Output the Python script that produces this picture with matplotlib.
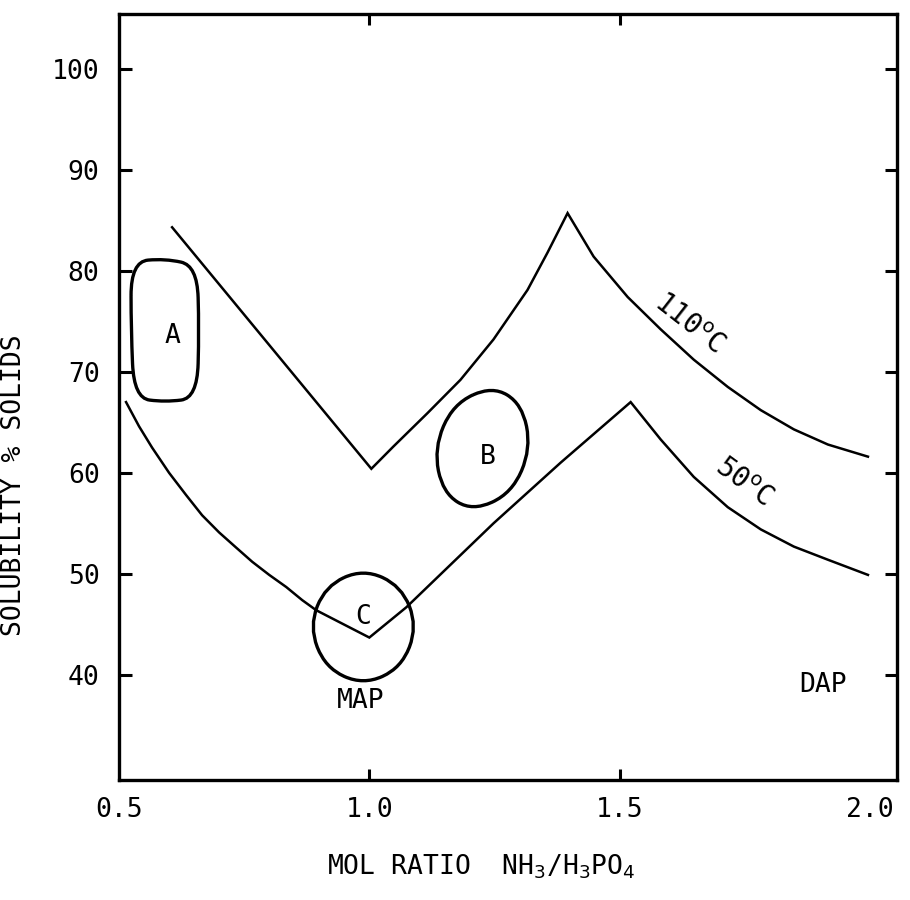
import numpy as np
import matplotlib
matplotlib.use("Agg")
import matplotlib.pyplot as plt
from matplotlib.path import Path
from matplotlib.patches import PathPatch

plt.rcParams['font.family'] = ['DejaVu Sans Mono', 'DejaVu Sans']
plt.rcParams['mathtext.fontset'] = 'dejavusans'

# 110 C solubility curve
hot_x = [0.606, 1.004, 1.048, 1.116, 1.182, 1.248, 1.316, 1.356, 1.396,
         1.448, 1.516, 1.582, 1.648, 1.716, 1.782, 1.848, 1.916, 1.996]
hot_y = [84.3, 60.4, 62.6, 65.9, 69.2, 73.2, 78.1, 81.8, 85.7,
         81.4, 77.4, 74.2, 71.2, 68.5, 66.2, 64.3, 62.8, 61.6]

# 50 C solubility curve
cold_x = [0.514, 0.540, 0.566, 0.600, 0.634, 0.666, 0.700, 0.734, 0.766,
          0.800, 0.834, 0.866, 0.894, 1.000,
          1.074, 1.248, 1.382, 1.522,
          1.582, 1.648, 1.716, 1.782, 1.848, 1.916, 1.996]
cold_y = [67.0, 64.6, 62.5, 60.0, 57.8, 55.8, 54.1, 52.6, 51.2,
          49.9, 48.7, 47.4, 46.4, 43.7,
          46.7, 55.0, 61.0, 67.0,
          63.3, 59.6, 56.6, 54.4, 52.7, 51.4, 49.9]

# outline control points of the three regions A, B, C
blob_a = [(0.524, 80.9), (0.592, 81.2), (0.656, 80.5), (0.660, 74.2),
          (0.656, 67.4), (0.592, 67.0), (0.530, 67.4), (0.524, 74.2)]
blob_b = [(1.246, 68.6), (1.305, 66.8), (1.323, 62.4), (1.285, 58.0),
          (1.206, 56.2), (1.147, 58.0), (1.129, 62.4), (1.167, 66.8)]
blob_c = [(0.988, 50.5), (1.064, 48.8), (1.096, 44.8), (1.064, 40.7),
          (0.988, 39.0), (0.912, 40.7), (0.880, 44.8), (0.912, 48.8)]
blob_labels = ['A', 'B', 'C']
label_pos = [(0.606, 73.5), (1.236, 61.6), (0.988, 45.7)]

x_ticks = [0.5, 1.0, 1.5, 2.0]
x_ticklabels = ['0.5', '1.0', '1.5', '2.0']
y_ticks = [40, 50, 60, 70, 80, 90, 100]


def smooth_closed(pts):
    # closed quadratic b-spline through edge midpoints
    pts = np.asarray(pts)
    n = len(pts)
    mids = (pts + np.roll(pts, -1, axis=0)) / 2
    verts = [mids[-1]]
    codes = [Path.MOVETO]
    for i in range(n):
        verts += [pts[i], mids[i]]
        codes += [Path.CURVE3, Path.CURVE3]
    return Path(verts, codes)


fig = plt.figure(figsize=(9.1, 9.0), dpi=100)
ax = fig.add_axes([0.1308, 0.1333, 0.8549, 0.8511])

ax.plot(hot_x, hot_y, color='black', lw=1.8, solid_joinstyle='miter')
ax.plot(cold_x, cold_y, color='black', lw=1.8, solid_joinstyle='miter')

for pts in [blob_a, blob_b, blob_c]:
    ax.add_patch(PathPatch(smooth_closed(pts), facecolor='none',
                           edgecolor='black', lw=2.4))
for lab, (lx, ly) in zip(blob_labels, label_pos):
    ax.text(lx, ly, lab, fontsize=19, ha='center', va='center')

ax.text(1.638, 74.8, r'110$^\mathrm{o}$C', fontsize=20, rotation=-38,
        ha='center', va='center')
ax.text(1.748, 59.1, r'50$^\mathrm{o}$C', fontsize=20, rotation=-36,
        ha='center', va='center')
ax.text(0.982, 37.4, 'MAP', fontsize=19, ha='center', va='center')
ax.text(1.906, 39.0, 'DAP', fontsize=19, ha='center', va='center')

ax.set_xlim(0.5, 2.054)
ax.set_ylim(29.6, 105.4)
ax.set_xticks(x_ticks)
ax.set_xticklabels(x_ticklabels)
ax.set_yticks(y_ticks)
ax.tick_params(axis='both', direction='in', labelsize=19, width=2.2)
ax.tick_params(axis='y', length=9, pad=14, right=True)
ax.tick_params(axis='x', length=8, pad=12, top=True)
for i in [0, 3]:
    t = ax.xaxis.get_major_ticks()[i]
    t.tick1line.set_visible(False)
    t.tick2line.set_visible(False)
for s in ax.spines.values():
    s.set_linewidth(2.4)

ax.set_xlabel(r'MOL RATIO  NH$_3$/H$_3$PO$_4$', fontsize=19)
ax.xaxis.set_label_coords(0.465, -0.095)
ax.set_ylabel('SOLUBILITY % SOLIDS', fontsize=19)
ax.yaxis.set_label_coords(-0.118, 0.385)

plt.savefig('out.png', dpi=100)
